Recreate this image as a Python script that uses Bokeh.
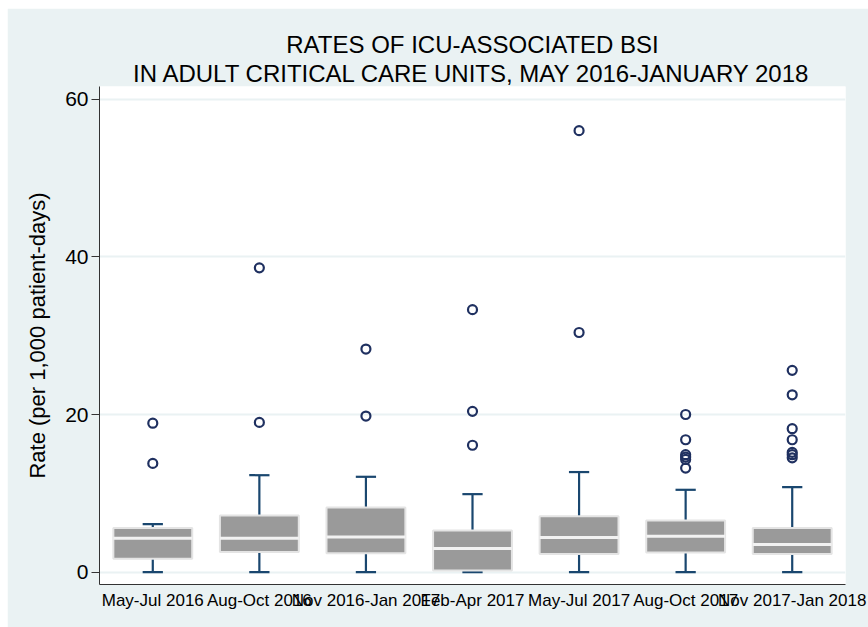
from bokeh.plotting import figure
from bokeh.models import FactorRange, Range1d, FixedTicker, ColumnDataSource, Title, Spacer
from bokeh.layouts import column, row
from bokeh.transform import dodge
from bokeh.embed import file_html
from bokeh.resources import INLINE

groups = ["May-Jul 2016", "Aug-Oct 2016", "Nov 2016-Jan 2017", "Feb-Apr 2017",
          "May-Jul 2017", "Aug-Oct 2017", "Nov 2017-Jan 2018"]
lower = [0, 0, 0, 0, 0, 0, 0]
q1 = [1.7, 2.55, 2.4, 0.2, 2.3, 2.5, 2.3]
median = [4.3, 4.3, 4.45, 3.0, 4.4, 4.55, 3.5]
q3 = [5.6, 7.2, 8.2, 5.3, 7.1, 6.55, 5.6]
upper = [6.1, 12.3, 12.1, 9.9, 12.7, 10.45, 10.8]
outliers = {
    "May-Jul 2016": [18.9, 13.8],
    "Aug-Oct 2016": [38.6, 19.0],
    "Nov 2016-Jan 2017": [28.3, 19.8],
    "Feb-Apr 2017": [33.3, 20.4, 16.1],
    "May-Jul 2017": [56.0, 30.4],
    "Aug-Oct 2017": [20.0, 16.8, 14.9, 14.6, 14.3, 13.2],
    "Nov 2017-Jan 2018": [25.6, 22.5, 18.2, 16.8, 15.2, 14.9, 14.5],
}
y_ticks = [0, 20, 40, 60]
title_lines = ["RATES OF ICU-ASSOCIATED BSI",
               "IN ADULT CRITICAL CARE UNITS, MAY 2016-JANUARY 2018"]

BG = "#eaf2f3"
FONT = "Liberation Sans"

p = figure(x_range=FactorRange(factors=groups, range_padding=0),
           y_range=Range1d(-1.56, 61.6),
           width=861, height=619, output_backend="svg", toolbar_location=None,
           min_border_left=92, min_border_right=23, min_border_top=78, min_border_bottom=43)
p.background_fill_color = "white"
p.border_fill_color = BG
p.outline_line_color = None

for line in reversed(title_lines):
    p.add_layout(Title(text=line, align="center", text_font=FONT, text_font_size="24px",
                       text_font_style="normal", text_color="black",
                       standoff=0), "above")

p.xgrid.grid_line_color = None
p.ygrid.grid_line_color = BG
p.ygrid.grid_line_width = 2

p.yaxis.ticker = FixedTicker(ticks=y_ticks)
p.yaxis.minor_tick_line_color = None
p.yaxis.major_tick_out = 8
p.yaxis.major_tick_in = 0
p.yaxis.major_label_standoff = 3
p.yaxis.major_label_text_font = FONT
p.yaxis.major_label_text_font_size = "21px"
p.yaxis.major_label_text_color = "black"
p.yaxis.axis_label = "Rate (per 1,000 patient-days)"
p.yaxis.axis_label_text_font = FONT
p.yaxis.axis_label_text_font_size = "22px"
p.yaxis.axis_label_text_font_style = "normal"
p.yaxis.axis_label_text_color = "black"
p.yaxis.axis_label_standoff = 12
p.yaxis.axis_line_color = "#333333"
p.yaxis.major_tick_line_color = "#333333"

p.xaxis.major_tick_line_color = None
p.xaxis.major_tick_out = 0
p.xaxis.major_label_standoff = 6
p.xaxis.major_label_text_font = FONT
p.xaxis.major_label_text_font_size = "17px"
p.xaxis.major_label_text_color = "black"
p.xaxis.axis_line_color = "#333333"

src = ColumnDataSource(dict(g=groups, lower=lower, q1=q1, med=median, q3=q3, upper=upper))
WC = "#1a476f"
cap_w = 0.19
box_w = 0.74
p.segment(x0="g", y0="q3", x1="g", y1="upper", source=src, line_color=WC, line_width=2.2)
p.segment(x0="g", y0="lower", x1="g", y1="q1", source=src, line_color=WC, line_width=2.2)
p.segment(x0=dodge("g", -cap_w / 2, range=p.x_range), y0="upper",
          x1=dodge("g", cap_w / 2, range=p.x_range), y1="upper", source=src, line_color=WC, line_width=2.2)
p.segment(x0=dodge("g", -cap_w / 2, range=p.x_range), y0="lower",
          x1=dodge("g", cap_w / 2, range=p.x_range), y1="lower", source=src, line_color=WC, line_width=2.2)
p.vbar(x="g", bottom="q1", top="q3", width=box_w, source=src,
       fill_color="#9a9a9a", line_color="#e4e4e4", line_width=2)
p.segment(x0=dodge("g", -box_w / 2, range=p.x_range), y0="med",
          x1=dodge("g", box_w / 2, range=p.x_range), y1="med", source=src, line_color="#f2f2f2", line_width=3)

ox, oy = [], []
for g in groups:
    for v in outliers[g]:
        ox.append(g)
        oy.append(v)
p.scatter(x=ox, y=oy, marker="circle", size=9, fill_color=None, line_color="#1f3060", line_width=2.2)

layout = column(Spacer(width=868, height=8),
                row(Spacer(width=7, height=619), p, spacing=0), spacing=0)

open("out.html", "w").write(file_html(layout, INLINE))
